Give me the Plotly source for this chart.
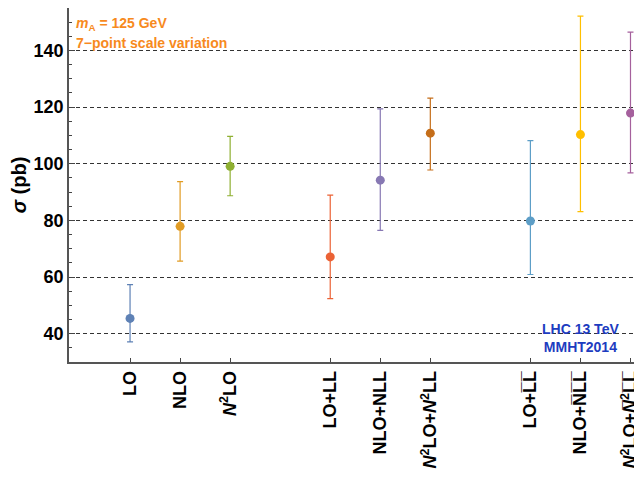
import plotly.graph_objects as go

# ---- data ----
labels = [
    "LO", "NLO", "<i>N</i><sup>2</sup>LO",
    "LO+LL", "NLO+NLL", "<i>N</i><sup>2</sup>LO+<i>N</i><sup>2</sup>LL",
    "LO+L\u0305L\u0305", "NLO+N\u0305L\u0305L\u0305",
    "<i>N</i><sup>2</sup>LO+<i>N\u0305</i><sup>2</sup>L\u0305L\u0305",
]
positions = [1, 2, 3, 5, 6, 7, 9, 10, 11]
central = [45.4, 77.9, 99.1, 67.1, 94.2, 110.8, 79.8, 110.3, 117.9]
upper = [57.3, 93.7, 109.7, 88.9, 119.4, 123.2, 108.2, 152.1, 146.5]
lower = [37.1, 65.6, 88.7, 52.4, 76.5, 97.8, 60.9, 83.1, 96.8]
colors = ["#5e81b5", "#e19c24", "#8fb032", "#eb6235", "#8778b3",
          "#c56e1a", "#5d9ec7", "#ffbf00", "#a5609d"]
yticks = [40, 60, 80, 100, 120, 140]

FONT = "Liberation Sans, Arial, sans-serif"

fig = go.Figure()
for lab, xp, c, u, l, col in zip(labels, positions, central, upper, lower, colors):
    fig.add_trace(go.Scatter(
        x=[xp], y=[c], mode="markers",
        marker=dict(color=col, size=9),
        error_y=dict(type="data", symmetric=False, array=[u - c], arrayminus=[c - l],
                     color=col, thickness=1.2, width=3),
        showlegend=False, name=lab,
    ))

fig.update_layout(
    width=642, height=480,
    margin=dict(l=61, r=9, t=0, b=126),
    plot_bgcolor="white", paper_bgcolor="white",
    font=dict(family=FONT, color="black"),
    xaxis=dict(
        range=[-0.22, 11.21],
        tickvals=positions,
        ticktext=["<b>" + t + "</b>" for t in labels],
        tickangle=-90,
        ticks="inside", ticklen=4, tickcolor="#444",
        tickfont=dict(size=18, family=FONT, color="black"),
        showgrid=False, zeroline=False, automargin=False,
        showline=True, linecolor="#555", linewidth=1.5, mirror=True,
    ),
    yaxis=dict(
        range=[30, 155],
        tickvals=yticks,
        ticktext=["<b>%d</b>" % v for v in yticks],
        ticks="inside", ticklen=6, tickcolor="#444",
        minor=dict(dtick=5, ticks="inside", ticklen=3, tickcolor="#444", showgrid=False),
        tickfont=dict(size=18, family=FONT, color="black"),
        showgrid=True, gridcolor="#333", griddash="4px,3px", gridwidth=1,
        zeroline=False, automargin=False,
        showline=True, linecolor="#555", linewidth=1.5, mirror=False,
        title=dict(text="<b><i>σ</i> (pb)</b>", font=dict(size=20, family=FONT), standoff=10),
    ),
)

# right frame line (lighter)
fig.add_shape(type="line", xref="paper", yref="paper", x0=1, x1=1, y0=0, y1=1,
              line=dict(color="#aaa", width=1))

fig.add_annotation(xref="paper", yref="paper", x=0.008, y=0.985, xanchor="left", yanchor="top",
                   text="<b><i>m</i><sub>A</sub> = 125 GeV</b>", showarrow=False,
                   font=dict(size=14, color="#f78a1d", family=FONT))
fig.add_annotation(xref="paper", yref="paper", x=0.008, y=0.928, xanchor="left", yanchor="top",
                   text="<b>7\u2212point scale variation</b>", showarrow=False,
                   font=dict(size=14, color="#f78a1d", family=FONT))
fig.add_annotation(xref="paper", yref="paper", x=0.894, y=0.068, xanchor="center", yanchor="middle",
                   text="<b>LHC 13 TeV</b><br><b>MMHT2014</b>", showarrow=False,
                   font=dict(size=14, color="#1d3cc0", family=FONT))

fig.write_html("out.html")
